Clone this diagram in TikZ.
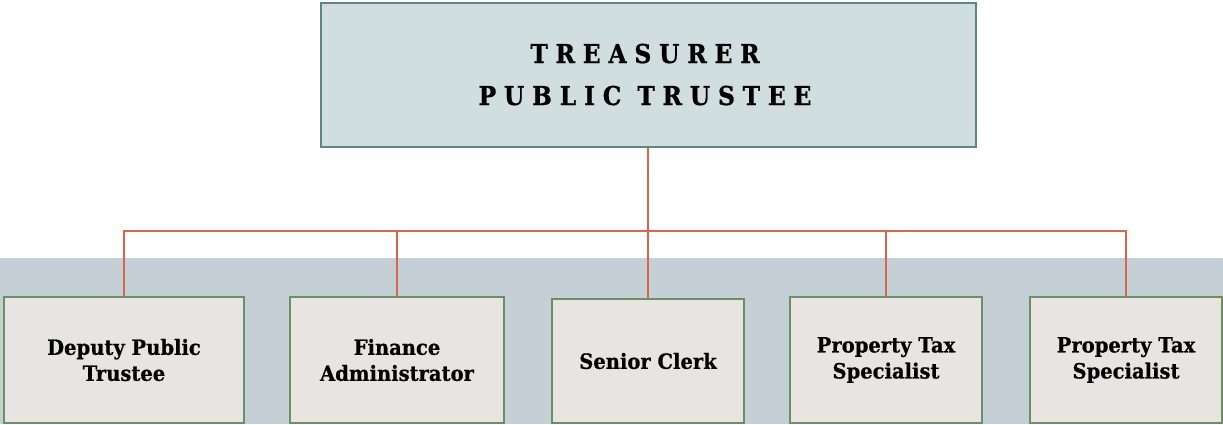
\documentclass[tikz,border=0pt]{standalone}
\usepackage{fontspec}
\setmainfont{DejaVu Serif}
\newfontfamily\boxfont[FakeStretch=0.93,FakeBold=0.6]{DejaVu Serif}
\newfontfamily\titlefont[FakeStretch=0.9,LetterSpace=30,FakeBold=0.8]{DejaVu Serif}
\definecolor{topfill}{HTML}{D0DEDF}
\definecolor{topdraw}{HTML}{5E8784}
\definecolor{boxfill}{HTML}{E8E4E1}
\definecolor{boxdraw}{HTML}{6A8F64}
\definecolor{band}{HTML}{C5D0D6}
\definecolor{link}{HTML}{D9654B}
\tikzset{
  topbox/.style={draw=topdraw, fill=topfill, line width=2pt, inner sep=0pt},
  titletext/.style={font=\titlefont\bfseries\fontsize{26}{44}\selectfont, anchor=base, inner sep=0pt},
  staffbox/.style={draw=boxdraw, fill=boxfill, line width=2pt, inner sep=0pt, align=center,
    font=\boxfont\bfseries\fontsize{21}{26}\selectfont},
  conn/.style={draw=link, line width=2pt}
}
\begin{document}
\begin{tikzpicture}[x=1pt,y=-1pt]
\useasboundingbox (0,0) rectangle (1223,424);
\fill[band] (0,258) rectangle (1223,424);
% top box
\node[topbox, minimum width=655pt, minimum height=144pt] (top) at (648,75) {};
\node[titletext] (t1) at (645,63) {TREASURER};
\node[titletext] (t2) at (645,105) {PUBLIC TRUSTEE};
% staff boxes
\node[staffbox, minimum width=240pt, minimum height=126pt] (b1) at (124,360) {Deputy Public\\Trustee};
\node[staffbox, minimum width=214pt, minimum height=126pt] (b2) at (397,360) {Finance\\Administrator};
\node[staffbox, minimum width=192pt, minimum height=124pt] (b3) at (648,361) {Senior Clerk};
\node[staffbox, minimum width=192pt, minimum height=126pt] (b4) at (886,360) {Property Tax\\Specialist};
\node[staffbox, minimum width=192pt, minimum height=126pt] (b5) at (1126,360) {Property Tax\\Specialist};
% connectors
\coordinate (bus) at (648,231);
\draw[conn] (top.south) -- (bus);
\draw[conn] (b1.north) |- (bus);
\draw[conn] (b5.north) |- (bus);
\draw[conn] (b2.north) -- (b2.north |- bus);
\draw[conn] (b3.north) -- (bus);
\draw[conn] (b4.north) -- (b4.north |- bus);
\end{tikzpicture}
\end{document}
